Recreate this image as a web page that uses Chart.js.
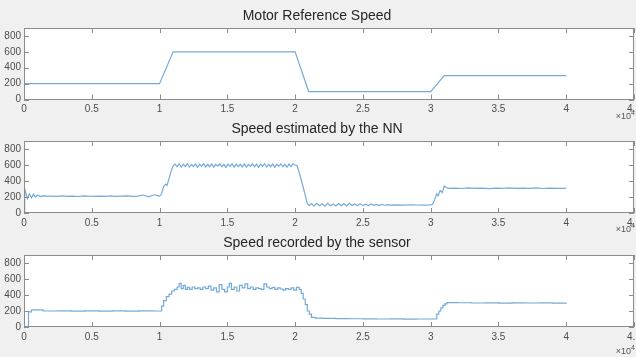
<!DOCTYPE html>
<html>
<head>
<meta charset="utf-8">
<script src="https://cdn.jsdelivr.net/npm/chart.js@4.4.0/dist/chart.umd.min.js"></script>
<style>
    html, body { margin: 0; padding: 0; background: #f0f0f0; }
    body { width: 636px; height: 357px; position: relative; overflow: hidden; }
    canvas { position: absolute; left: 0; }
</style>
</head>
<body>
<canvas id="refChart" width="636" height="124" style="top:0px"></canvas>
<canvas id="nnChart" width="636" height="124" style="top:113px"></canvas>
<canvas id="sensorChart" width="636" height="130" style="top:227px"></canvas>
<script>
// Axis ticks (x in samples, labels shown in units of 10^4)
const xTicks = [0, 5000, 10000, 15000, 20000, 25000, 30000, 35000, 40000, 45000];
const yTicks = [0, 200, 400, 600, 800];

// Motor reference speed
const refX = [0, 10000, 11000, 20000, 21000, 30000, 31000, 40000];
const refY = [200, 200, 600, 600, 100, 100, 300, 300];

// Speed estimated by the NN
const nnX = [
    0, 50, 120, 250, 400, 550, 700, 850, 1000, 1200, 1400, 1700,
    2000, 2400, 2800, 3200, 3600, 4000, 4400, 4800, 5200, 5600, 6000, 6400, 6800, 7200, 7600, 8000, 8400, 8800, 9200, 9600, 10000,
    10150, 10300, 10450, 10550, 10700, 10850, 11000,
    11150, 11300, 11450, 11600, 11750, 11900, 12050, 12200, 12350, 12500,
    12650, 12800, 12950, 13100, 13250, 13400, 13550, 13700, 13850, 14000,
    14150, 14300, 14450, 14600, 14750, 14900, 15050, 15200, 15350, 15500,
    15650, 15800, 15950, 16100, 16250, 16400, 16550, 16700, 16850, 17000,
    17150, 17300, 17450, 17600, 17750, 17900, 18050, 18200, 18350, 18500,
    18650, 18800, 18950, 19100, 19250, 19400, 19550, 19700, 19850, 20000,
    20150, 20350, 20550, 20750, 20900, 21050,
    21200, 21400, 21600, 21800, 22000, 22200, 22400, 22600, 22800, 23000,
    23200, 23400, 23600, 23800, 24000, 24200, 24400, 24600, 24800, 25000,
    25200, 25400, 25600, 25800, 26000, 26200, 26400, 26600, 26800, 27000,
    27500, 28000, 28500, 29000, 29500, 30000,
    30150, 30300, 30450, 30550, 30700, 30850, 31000, 31150, 31300,
    31800, 32300, 32800, 33300, 33800, 34300, 34800, 35300, 35800, 36300, 36800, 37300, 37800, 38300, 38800, 39300, 39800, 40000
];
const nnY = [
    0, 310, 260, 180, 240, 190, 235, 200, 225, 205, 215, 210,
    212, 207, 213, 209, 211, 206, 214, 210, 208, 212, 209, 213, 207, 211, 214, 208, 212, 225, 202, 228, 212,
    240, 330, 360, 345, 430, 520, 590,
    612, 578, 615, 572, 610, 582, 616, 575, 608, 580,
    614, 570, 611, 584, 617, 576, 609, 579, 613, 573,
    610, 585, 615, 577, 608, 571, 612, 583, 616, 574,
    611, 580, 609, 576, 614, 572, 607, 582, 615, 578,
    612, 570, 610, 584, 616, 575, 609, 579, 613, 573,
    611, 585, 614, 577, 608, 572, 612, 581, 615, 600,
    590, 480, 350, 220, 120, 95,
    118, 88, 120, 90, 116, 86, 122, 92, 114, 88,
    119, 91, 115, 89, 120, 93, 112, 90, 117, 92,
    110, 94, 112, 95, 108, 96, 107, 97, 105, 98,
    101, 99, 103, 100, 98, 101,
    110, 170, 240, 215, 280, 255, 338, 318, 308,
    311, 306, 313, 308, 310, 305, 312, 309, 314, 307, 311, 308, 313, 306, 312, 309, 307, 310
];

// Speed recorded by the sensor (stairs)
const sensorX = [
    0, 330, 550, 1400, 2500, 3500, 4500, 5500, 6500, 7500, 8500, 9500, 10000,
    10150, 10300, 10500, 10700, 10900, 11100, 11300, 11450, 11600, 11750, 11900, 12050, 12200, 12400, 12600, 12800,
    13000, 13200, 13400, 13600, 13800, 14000, 14200, 14400, 14600, 14800, 15000, 15150, 15300, 15500, 15700, 15900,
    16100, 16300, 16500, 16700, 16900, 17100, 17300, 17500, 17700, 17900, 18100, 18300, 18500, 18700, 18900,
    19100, 19300, 19500, 19700, 19900, 20100, 20300, 20450, 20600, 20750, 20900, 21050, 21200, 21500,
    22000, 23000, 24000, 25000, 26000, 27000, 28000, 29000, 30000, 30300, 30450, 30600, 30750, 30900, 31050, 31200,
    32000, 33000, 34000, 35000, 36000, 37000, 38000, 39000, 40000
];
const sensorY = [
    0, 190, 215, 200, 202, 198, 201, 199, 202, 198, 201, 200, 200,
    260, 330, 380, 410, 450, 470, 500, 545, 480, 520, 470, 495, 470, 500, 480, 490,
    470, 500, 480, 510, 460, 490, 440, 530, 470, 440, 500, 545, 470, 500, 450, 520,
    490, 540, 480, 500, 470, 490, 480, 470, 540, 500, 480, 495, 470, 490, 475,
    460, 480, 470, 490, 460, 495, 470, 420, 350, 280, 200, 160, 120, 112,
    108, 105, 103, 102, 100, 101, 99, 100, 100, 100, 160, 200, 240, 270, 290, 305,
    303, 300, 302, 299, 301, 300, 302, 299, 300
];

const lineColor = '#74aad8';
const fontFamily = '"Liberation Sans", Arial, sans-serif';

// MATLAB-like axes: white plot area, box frame, inward ticks, x10^4 note
const matlabAxes = {
    id: 'matlabAxes',
    beforeDraw(chart) {
        const { ctx, chartArea: a } = chart;
        ctx.save();
        ctx.fillStyle = '#ffffff';
        ctx.fillRect(a.left, a.top, a.right - a.left, a.bottom - a.top);
        ctx.restore();
    },
    afterDraw(chart, args, opts) {
        const { ctx, chartArea: a, scales: { x, y } } = chart;
        ctx.save();
        ctx.strokeStyle = '#8c8c8c';
        ctx.lineWidth = 1;
        ctx.beginPath();
        x.ticks.forEach(t => {
            const px = Math.round(x.getPixelForValue(t.value)) + 0.5;
            ctx.moveTo(px, a.bottom); ctx.lineTo(px, a.bottom - 5);
            ctx.moveTo(px, a.top); ctx.lineTo(px, a.top + 5);
        });
        y.ticks.forEach(t => {
            const py = Math.round(y.getPixelForValue(t.value)) + 0.5;
            ctx.moveTo(a.left, py); ctx.lineTo(a.left + 5, py);
            ctx.moveTo(a.right, py); ctx.lineTo(a.right - 5, py);
        });
        ctx.stroke();
        ctx.strokeRect(Math.round(a.left) + 0.5, Math.round(a.top) + 0.5,
            Math.round(a.right - a.left) - 1, Math.round(a.bottom - a.top) - 1);

        // exponent note under the right end of the x axis
        ctx.fillStyle = '#555555';
        ctx.textBaseline = 'middle';
        const base = '\u00d710';
        ctx.font = '7px ' + fontFamily;
        const supW = ctx.measureText('4').width;
        ctx.font = '9px ' + fontFamily;
        const baseW = ctx.measureText(base).width;
        const xEnd = chart.width - 1;
        ctx.fillText(base, xEnd - supW - baseW, opts.noteY);
        ctx.font = '7px ' + fontFamily;
        ctx.fillText('4', xEnd - supW, opts.noteY - 4);
        ctx.restore();
    }
};

function makeChart(canvasId, title, xs, ys, stepped, xAxisHeight, noteY) {
    const ctx = document.getElementById(canvasId);
    if (!ctx) return;

    new Chart(ctx.getContext('2d'), {
        type: 'line',
        data: {
            datasets: [{
                data: xs.map((v, i) => ({ x: v, y: ys[i] })),
                borderColor: lineColor,
                borderWidth: 1.2,
                pointRadius: 0,
                tension: 0,
                stepped: stepped,
                fill: false
            }]
        },
        options: {
            responsive: false,
            animation: false,
            layout: { padding: { left: 0, right: 2, top: 0, bottom: 0 } },
            plugins: {
                legend: { display: false },
                tooltip: { enabled: false },
                title: {
                    display: true,
                    text: title,
                    color: '#262626',
                    font: { family: fontFamily, size: 14, weight: 'normal' },
                    padding: { top: 8, bottom: 3.2 }
                },
                matlabAxes: { noteY: noteY }
            },
            scales: {
                x: {
                    type: 'linear',
                    min: 0,
                    max: 45000,
                    grid: { display: false, drawTicks: false },
                    border: { display: false },
                    afterBuildTicks: scale => { scale.ticks = xTicks.map(v => ({ value: v })); },
                    afterFit: scale => {
                        scale.height = xAxisHeight;
                        scale.paddingLeft = 0;
                        scale.paddingRight = 0;
                    },
                    ticks: {
                        autoSkip: false,
                        maxRotation: 0,
                        padding: 4,
                        color: '#4d4d4d',
                        font: { family: fontFamily, size: 10 },
                        callback: value => String(value / 10000)
                    }
                },
                y: {
                    min: 0,
                    max: 900,
                    grid: { display: false, drawTicks: false },
                    border: { display: false },
                    afterBuildTicks: scale => { scale.ticks = yTicks.map(v => ({ value: v })); },
                    afterFit: scale => {
                        scale.width = 24;
                        scale.paddingTop = 0;
                        scale.paddingBottom = 0;
                    },
                    ticks: {
                        padding: 3,
                        color: '#4d4d4d',
                        font: { family: fontFamily, size: 10 }
                    }
                }
            }
        },
        plugins: [matlabAxes]
    });
}

document.addEventListener('DOMContentLoaded', function() {
    makeChart('refChart', 'Motor Reference Speed', refX, refY, false, 24.5, 117);
    makeChart('nnChart', 'Speed estimated by the NN', nnX, nnY, false, 24, 117);
    makeChart('sensorChart', 'Speed recorded by the sensor', sensorX, sensorY, true, 30, 125);
});
</script>
</body>
</html>
